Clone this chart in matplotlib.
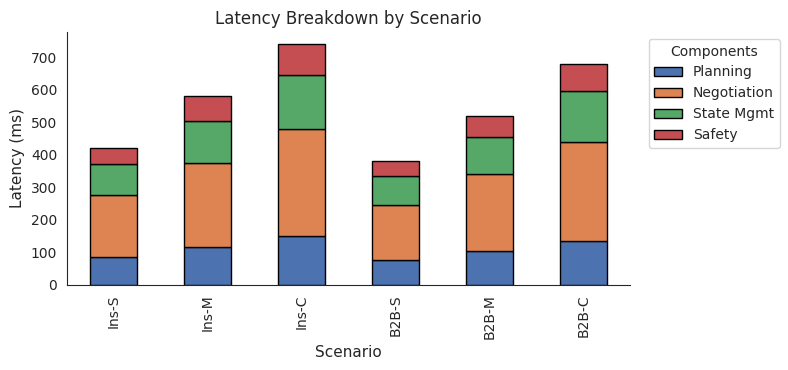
import matplotlib
matplotlib.use("Agg")
import matplotlib.pyplot as plt
import seaborn as sns
import pandas as pd

scenarios = ["Ins-S", "Ins-M", "Ins-C", "B2B-S", "B2B-M", "B2B-C"]
planning = [85, 115, 150, 75, 105, 135]
negotiation = [190, 260, 330, 170, 235, 305]
state_mgmt = [95, 130, 165, 90, 115, 155]
safety = [50, 75, 95, 45, 65, 85]
components = ["Planning", "Negotiation", "State Mgmt", "Safety"]

sns.set_style("white")
plt.rcParams['font.family'] = ['DejaVu Sans']
colors = sns.color_palette("deep")[:4]

df = pd.DataFrame({
    components[0]: planning,
    components[1]: negotiation,
    components[2]: state_mgmt,
    components[3]: safety,
}, index=scenarios)

fig, ax = plt.subplots(figsize=(7.88, 3.70), dpi=100)
df.plot(kind="bar", stacked=True, ax=ax, color=colors, edgecolor="black", width=0.5)
ax.set_title("Latency Breakdown by Scenario", fontsize=12)
ax.set_xlabel("Scenario", fontsize=11)
ax.set_ylabel("Latency (ms)", fontsize=11)
ax.tick_params(labelsize=10)
ax.legend(title="Components", bbox_to_anchor=(1.02, 1), loc="upper left",
          fontsize=10, title_fontsize=10)
sns.despine(ax=ax)
fig.subplots_adjust(left=0.085, right=0.8, top=0.9135, bottom=0.23)
fig.savefig("out.png", dpi=100)
